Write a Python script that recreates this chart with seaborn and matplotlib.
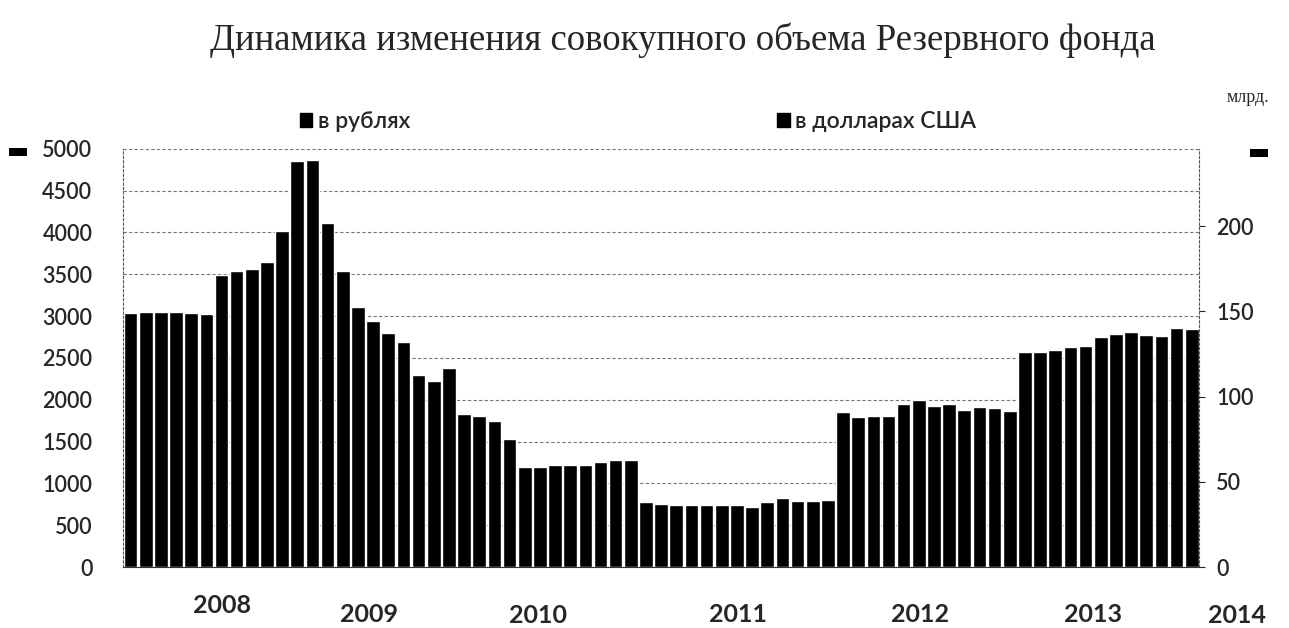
import numpy as np
import pandas as pd
import seaborn as sns
import matplotlib.pyplot as plt
from matplotlib.patches import Patch, Rectangle
import matplotlib.transforms as mtransforms

# monthly total of the Reserve Fund, bln rubles, Feb 2008 - Dec 2013
rub_values = [3042, 3054, 3054, 3054, 3042, 3025, 3489, 3541, 3561, 3653, 4020,
              4856, 4864, 4113, 3541, 3109, 2941, 2802, 2694, 2298, 2230, 2382,
              1834, 1811, 1751, 1535, 1195, 1191, 1215, 1215, 1215, 1251, 1283,
              1283, 776, 752, 743, 743, 743, 743, 748, 723, 776, 824, 791,
              791, 803, 1855, 1795, 1811, 1811, 1951, 1994, 1922, 1951, 1883,
              1915, 1903, 1863, 2574, 2574, 2590, 2634, 2642, 2754, 2782, 2814,
              2770, 2762, 2858, 2842]
year_labels = ['2008', '2009', '2010', '2011', '2012', '2013', '2014']
year_pos = [6.0, 15.7, 26.9, 40.1, 52.1, 63.5, 73.0]
year_y = [-0.093, -0.114, -0.115, -0.113, -0.114, -0.113, -0.115]
left_ticks = [0, 500, 1000, 1500, 2000, 2500, 3000, 3500, 4000, 4500, 5000]
right_ticks = [0, 50, 100, 150, 200]
series_names = ['в рублях', 'в долларах США']

df = pd.DataFrame({'month': np.arange(len(rub_values)), 'rub': rub_values})

sns.set_style('white')
plt.rcParams['font.family'] = ['Lato', 'DejaVu Sans']

fig = plt.figure(figsize=(12.89, 6.28), dpi=100)
ax = fig.add_axes([0.0954, 0.097, 0.835, 0.666])

sns.barplot(data=df, x='month', y='rub', color='black', saturation=1,
            width=0.9, ax=ax, native_scale=True)
ax.set_xlim(-0.5, len(rub_values) - 0.5)
ax.set_ylim(0, 5000)
ax.set_yticks(left_ticks)
ax.set_yticklabels([str(t) for t in left_ticks], fontsize=15.5, fontweight='semibold')
ax.set_xticks([])
ax.set_xlabel('')
ax.set_ylabel('')
ax.grid(axis='y', linestyle=(0, (3, 2)), color='#777777', linewidth=0.8)
ax.set_axisbelow(True)
for side in ['left', 'right', 'top']:
    ax.spines[side].set_linestyle((0, (2, 2)))
    ax.spines[side].set_color('#555555')
    ax.spines[side].set_linewidth(0.8)
ax.spines['top'].set_visible(False)
ax.spines['bottom'].set_color('#333333')
ax.tick_params(axis='y', length=0, pad=22)

ax2 = ax.twinx()
ax2.set_ylim(0, 245.3)
ax2.set_yticks(right_ticks)
ax2.set_yticklabels([str(t) for t in right_ticks], fontsize=15.5, fontweight='semibold')
ax2.tick_params(axis='y', length=4, pad=8)
for side in ['left', 'right', 'top', 'bottom']:
    ax2.spines[side].set_visible(False)

trans = mtransforms.blended_transform_factory(ax.transData, ax.transAxes)
for lab, xp, yp in zip(year_labels, year_pos, year_y):
    ax.text(xp, yp, lab, transform=trans, ha='center', va='center',
            fontsize=18, fontweight='bold', clip_on=False)

handles = [Patch(facecolor='black', edgecolor='black') for _ in series_names]
fig.legend(handles, series_names, loc='center', ncol=2, frameon=False,
           bbox_to_anchor=(0.495, 0.806),
           prop={'weight': 'semibold', 'size': 16.5}, columnspacing=16,
           handlelength=0.55, handleheight=0.55, handletextpad=0.25)

fig.text(0.53, 0.92, 'Динамика изменения совокупного объема Резервного фонда',
         ha='center', va='baseline', fontsize=26.5,
         family=['Liberation Serif', 'DejaVu Serif'])
fig.text(0.985, 0.845, 'млрд.', ha='right', va='center', fontsize=13,
         family=['Liberation Serif', 'DejaVu Serif'])

fig.patches.append(Rectangle((0.007, 0.752), 0.014, 0.012, transform=fig.transFigure,
                             facecolor='black', edgecolor='none'))
fig.patches.append(Rectangle((0.970, 0.750), 0.014, 0.012, transform=fig.transFigure,
                             facecolor='black', edgecolor='none'))

fig.savefig('out.png', dpi=100, facecolor='white')
